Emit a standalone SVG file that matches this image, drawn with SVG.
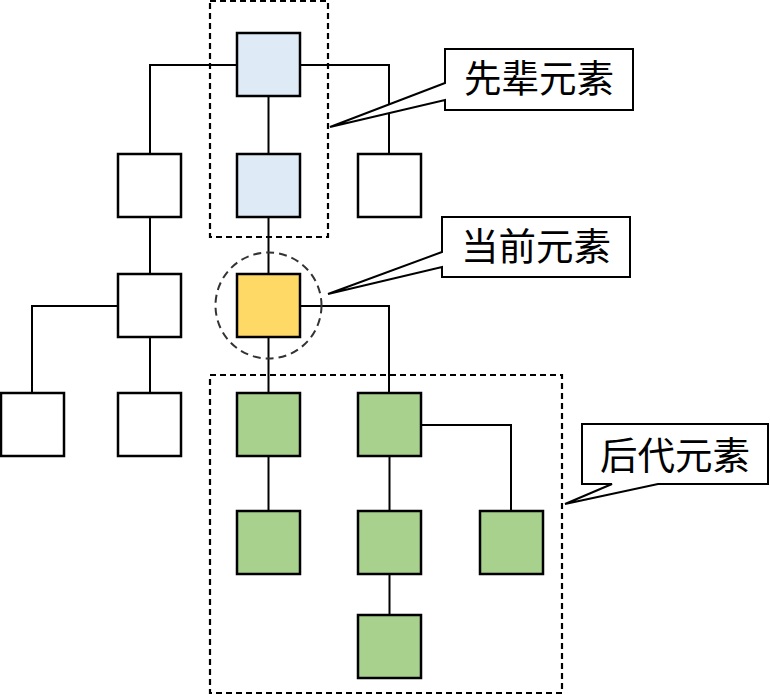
<svg xmlns="http://www.w3.org/2000/svg" width="770" height="695" viewBox="0 0 770 695">
<style>
.n{stroke:#000;stroke-width:2.5}
.w{fill:#fff}
.b{fill:#DEEBF7}
.y{fill:#FFD966}
.g{fill:#A9D18E}
.c{fill:none;stroke:#000;stroke-width:2}
.d{fill:none;stroke:#000;stroke-width:2.2;stroke-dasharray:6 4}
.co{fill:#fff;stroke:#000;stroke-width:2;stroke-linejoin:miter}
.t{font-family:"Noto Sans CJK SC","Noto Sans",sans-serif;font-size:37.5px;fill:#000;text-anchor:middle}
</style>
<rect width="770" height="695" fill="#fff"/>
<g id="connectors">
<path class="c" d="M237,65 H150 V154"/>
<path class="c" d="M300,65 H389 V154"/>
<path class="c" d="M268.5,96 V154"/>
<path class="c" d="M268.5,217 V274"/>
<path class="c" d="M150,217 V274"/>
<path class="c" d="M118,306 H32 V393"/>
<path class="c" d="M150,337 V393"/>
<path class="c" d="M268.5,337 V393"/>
<path class="c" d="M300,306 H389 V393"/>
<path class="c" d="M268.5,456 V511"/>
<path class="c" d="M389.5,456 V511"/>
<path class="c" d="M389.5,574 V615"/>
<path class="c" d="M421,425 H511 V511"/>
</g>
<g id="groups">
<rect id="ancestors-box" class="d" x="210" y="1" width="118" height="236"/>
<rect id="descendants-box" class="d" x="210" y="375" width="352" height="318"/>
<circle id="current-circle" cx="268.5" cy="305.5" r="53" fill="none" stroke="#333" stroke-width="2" stroke-dasharray="8 5"/>
</g>
<g id="a1"><rect class="n b" x="237" y="33" width="63" height="63"/></g>
<g id="a2"><rect class="n b" x="237" y="154" width="63" height="63"/></g>
<g id="s1"><rect class="n w" x="118" y="154" width="63" height="63"/></g>
<g id="s2"><rect class="n w" x="358" y="154" width="63" height="63"/></g>
<g id="s3"><rect class="n w" x="118" y="274" width="63" height="63"/></g>
<g id="s4"><rect class="n w" x="1" y="393" width="63" height="63"/></g>
<g id="s5"><rect class="n w" x="118" y="393" width="63" height="63"/></g>
<g id="cur"><rect class="n y" x="237" y="274" width="63" height="63"/></g>
<g id="d1"><rect class="n g" x="237" y="393" width="63" height="63"/></g>
<g id="d2"><rect class="n g" x="358" y="393" width="63" height="63"/></g>
<g id="d3"><rect class="n g" x="237" y="511" width="63" height="63"/></g>
<g id="d4"><rect class="n g" x="358" y="511" width="63" height="63"/></g>
<g id="d5"><rect class="n g" x="480" y="511" width="63" height="63"/></g>
<g id="d6"><rect class="n g" x="358" y="615" width="63" height="63"/></g>
<g id="callout-ancestors">
<path class="co" d="M445,49 H633 V110 H445 V100 L330,127 L445,83 Z"/>
<text class="t" x="539" y="92">先辈元素</text>
</g>
<g id="callout-current">
<path class="co" d="M442,217 H630 V277 H442 V267 L328,294 L442,252 Z"/>
<text class="t" x="536" y="260">当前元素</text>
</g>
<g id="callout-descendants">
<path class="co" d="M582,424 H768 V484 H658 L565,504 L612,484 H582 Z"/>
<text class="t" x="675" y="469">后代元素</text>
</g>
</svg>
